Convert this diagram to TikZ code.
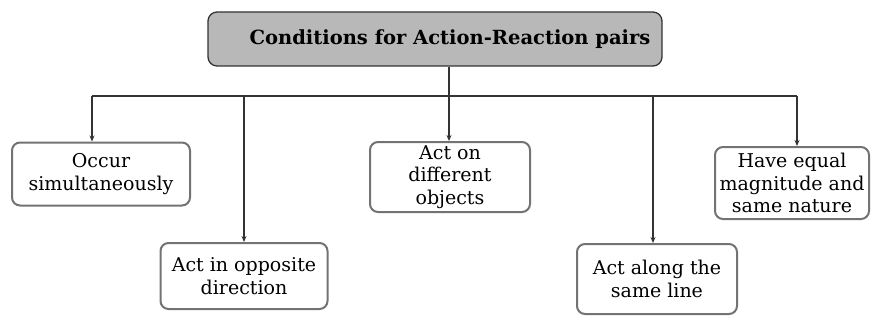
\documentclass[tikz,border=0pt]{standalone}
\usepackage{fontspec}
\setmainfont{DejaVu Serif}
\usetikzlibrary{arrows.meta}
\begin{document}
\begin{tikzpicture}[x=1pt,y=-1pt,
  box/.style={draw=black!55, line width=2pt, rounded corners=8pt, fill=white, align=center, font=\fontsize{19}{22.5}\selectfont, inner sep=0pt},
  titlebox/.style={draw=black!80, line width=1.3pt, rounded corners=9pt, fill=black!28, align=center, font=\bfseries\fontsize{19.5}{21}\selectfont, inner sep=0pt},
  conn/.style={draw=black!80, line width=1.1pt},
  arr/.style={conn, -{Stealth[length=6pt,width=5pt]}}]
\useasboundingbox (0,0) rectangle (873,321);
\node[titlebox, minimum width=454pt, minimum height=54pt] (title) at (435,39) {\hspace*{30pt}Conditions for Action-Reaction pairs};
\node[box, minimum width=178pt, minimum height=63pt] (b1) at (101,174) {Occur\\simultaneously};
\node[box, minimum width=167pt, minimum height=66pt] (b2) at (244,276) {Act in opposite\\direction};
\node[box, minimum width=160pt, minimum height=70pt] (b3) at (450,177) {Act on\\different\\objects};
\node[box, minimum width=154pt, minimum height=72pt] (b5) at (792,183) {Have equal\\magnitude and\\same nature};
\node[box, minimum width=160pt, minimum height=70pt] (b4) at (657,279) {Act along the\\same line};
\coordinate (hub) at (449,96);
\coordinate (hl) at (92,96);
\coordinate (hr) at (797,96);
\draw[conn] (title.south -| hub) -- (hub);
\draw[conn] (hl) -- (hr);
\draw[arr] (hl) -- (hl |- b1.north);
\draw[arr] (244,96) -- (b2.north);
\draw[arr] (hub) -- (hub |- b3.north);
\draw[arr] (653,96) -- (653,0 |- b4.north);
\draw[arr] (hr) -- (hr |- b5.north);
\end{tikzpicture}
\end{document}
